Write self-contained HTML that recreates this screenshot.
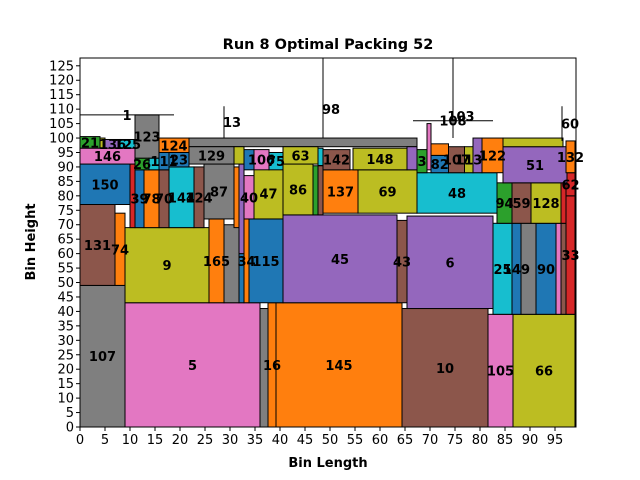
<!DOCTYPE html>
<html><head><meta charset="utf-8"><style>
body{margin:0;background:#fff}
svg{display:block;font-family:"DejaVu Sans","Liberation Sans",sans-serif}
</style></head><body>
<svg id="chart" width="640" height="480"></svg>
<script>
const C={blue:"#1f77b4",orange:"#ff7f0e",green:"#2ca02c",red:"#d62728",purple:"#9467bd",brown:"#8c564b",pink:"#e377c2",gray:"#7f7f7f",olive:"#bcbd22",cyan:"#17becf"};
const rectX=[0,9,36,37.6,39.2,64.4,81.6,86.6,0,7,9,25.8,28.8,31.8,32.8,33.8,40.6,63.4,65.4,82.6,86.4,88.2,91.2,95.2,96.2,97.2,97.2,0,10,11,12.8,15.8,17.8,22.8,24.8,30.8,31.8,32.8,34.8,40.6,46.6,47.6,48.6,55.6,67.4,83.4,86.4,90.2,96.2,84.6,97.2,0,0,4,5,8,11,11,13.8,15.8,17.8,15.8,21.8,21.8,30.8,32.8,34.8,37.8,40.6,47.6,48.6,54.6,65.4,67.4,69.4,70.2,70.2,73.7,76.9,78.6,80.4,84.6];
const rectY=[0,0,0,0,0,0,0,0,49,49,43,43,43,43,43,43,43,43,41,39,39,39,39,39,39,39,80,77,69,69,69,69,69,69,72,69,60,72,72,73.4,73.4,73.4,74,74,74,70.5,70.5,70.5,70.5,84.5,88,91,96.5,96.5,96.5,96.5,93,89,89,89,90,95,97,91,91,89,89,89,91,90.5,89,89,89,88,89,88,94,88,88,88,88,97];
const rectW=[9,27,1.6,1.6,25.2,17.2,5,12.4,7,2,16.8,3,3,1,1,6.8,22.8,2,17.2,3.8,1.8,3,4,1,1,1.8,1.8,10,1,1.8,3,2,5,2,6,1,1,2,5.8,6,1,1,7,11.8,16,3,3.8,6,1,12.8,1.8,11,4,1,3,3,4.8,2.8,2,2,4,6,45.6,9,2,2,3,2.8,7,1,5.4,10.8,2,2,0.8,3.5,3.5,3.2,1.7,1.8,4.2,12];
const rectH=[49,43,41,43,43,41,39,39,28,25,26,29,27,17,29,29,30.4,28.5,32,31.5,31.5,31.5,31.5,31.5,31.5,41,8,14,22,20,20,20,21,21,19,21,31,15,17.6,17.6,17,17,15,15,14,14,14,14,14,12.5,11,5.5,4,3.5,3,3,15,4,4,6,5,5,3,6,6,7,7,6,6,6,7,7.5,8,8,16,6,4,9,9,12,12,3];
const rectColor=["gray","pink","gray","orange","orange","brown","pink","olive","brown","orange","olive","orange","gray","blue","orange","blue","purple","brown","purple","cyan","blue","gray","blue","pink","brown","red","red","blue","red","blue","orange","brown","cyan","brown","gray","orange","purple","pink","olive","olive","green","brown","orange","olive","cyan","green","brown","olive","red","purple","orange","pink","green","olive","purple","cyan","gray","green","cyan","blue","blue","orange","gray","gray","olive","blue","pink","cyan","olive","cyan","brown","olive","purple","green","pink","blue","orange","brown","olive","purple","orange","olive"];
const rectLabel=["107","5","","16","145","10","105","66","131","74","9","165","","","34","115","45","43","6","25","149","","90","","","33","62","150","","39","78","70","144","124","87","","","40","47","86","","","137","69","48","94","59","128","","51","132","146","21","","136","125","123","26","","111","23","124","","129","","","106","75","63","","142","148","","3","","82","","107","113","","122",""];
const lineX1=[0,28.8,48.6,66.6,74.6,96.4];
const lineY1=[108,100,100,106,100,99];
const lineX2=[18.8,28.8,48.6,82.6,74.6,96.4];
const lineY2=[108,111,127.7,106,127.7,111];
const lineLabel=["1","13","98","108","103","60"];
const xTicks=[0,5,10,15,20,25,30,35,40,45,50,55,60,65,70,75,80,85,90,95];
const yTicks=[0,5,10,15,20,25,30,35,40,45,50,55,60,65,70,75,80,85,90,95,100,105,110,115,120,125];
const L=80,R=576,T=58,B=427,XMAX=99.2,YMAX=127.7;
const sx=v=>L+v/XMAX*(R-L), sy=v=>B-v/YMAX*(B-T);
const svg=document.getElementById('chart');const NS="http://www.w3.org/2000/svg";
function mk(t,a,p){const e=document.createElementNS(NS,t);for(const k in a)e.setAttribute(k,a[k]);(p||svg).appendChild(e);return e;}
const clip=mk('clipPath',{id:'cp'});mk('rect',{x:L,y:T,width:R-L,height:B-T},clip);
const g=mk('g',{'clip-path':'url(#cp)'});


for(let i=0;i<rectX.length;i++){
 const r=mk('rect',{x:sx(rectX[i]),y:sy(rectY[i]+rectH[i]),width:sx(rectX[i]+rectW[i])-sx(rectX[i]),height:sy(rectY[i])-sy(rectY[i]+rectH[i]),fill:C[rectColor[i]],stroke:'#000','stroke-width':1},g);
 
 
}
for(let i=0;i<rectX.length;i++){ if(!rectLabel[i])continue;
 const t=mk('text',{x:sx(rectX[i]+rectW[i]/2),y:sy(rectY[i]+rectH[i]/2)+5,'text-anchor':'middle','font-size':13,'font-weight':'bold',fill:'#000'});
 t.textContent=rectLabel[i];
 
 
}
for(let i=0;i<lineX1.length;i++){
 const l=mk('line',{x1:sx(lineX1[i]),y1:sy(lineY1[i]),x2:sx(lineX2[i]),y2:sy(lineY2[i]),stroke:'#000','stroke-width':1},g);
 
 
 const t=mk('text',{x:sx((lineX1[i]+lineX2[i])/2)+(lineX1[i]==lineX2[i]?8:0),y:sy((lineY1[i]+Math.min(lineY2[i],120))/2)+(i==4?12:5),'text-anchor':'middle','font-size':13,'font-weight':'bold'});
 t.textContent=lineLabel[i];
 
 
}
const fr=mk('rect',{x:L,y:T,width:R-L,height:B-T,fill:'none',stroke:'#000','stroke-width':1});


xTicks.forEach(v=>{mk('line',{x1:sx(v),x2:sx(v),y1:B,y2:B+4,stroke:'#000'});
 const t=mk('text',{x:sx(v),y:B+17,'text-anchor':'middle','font-size':13});t.textContent=v;
 
 });
yTicks.forEach(v=>{mk('line',{x1:L-4,x2:L,y1:sy(v),y2:sy(v),stroke:'#000'});
 const t=mk('text',{x:L-6,y:sy(v)+4.5,'text-anchor':'end','font-size':13});t.textContent=v;
 
 });
let t=mk('text',{x:328,y:49,'text-anchor':'middle','font-size':14.5,'font-weight':'bold'});t.textContent='Run 8 Optimal Packing 52';


t=mk('text',{x:328,y:467,'text-anchor':'middle','font-size':13,'font-weight':'bold'});t.textContent='Bin Length';


t=mk('text',{x:35,y:242,'text-anchor':'middle','font-size':13,'font-weight':'bold',transform:'rotate(-90 35 242)'});t.textContent='Bin Height';


</script>
</body></html>
